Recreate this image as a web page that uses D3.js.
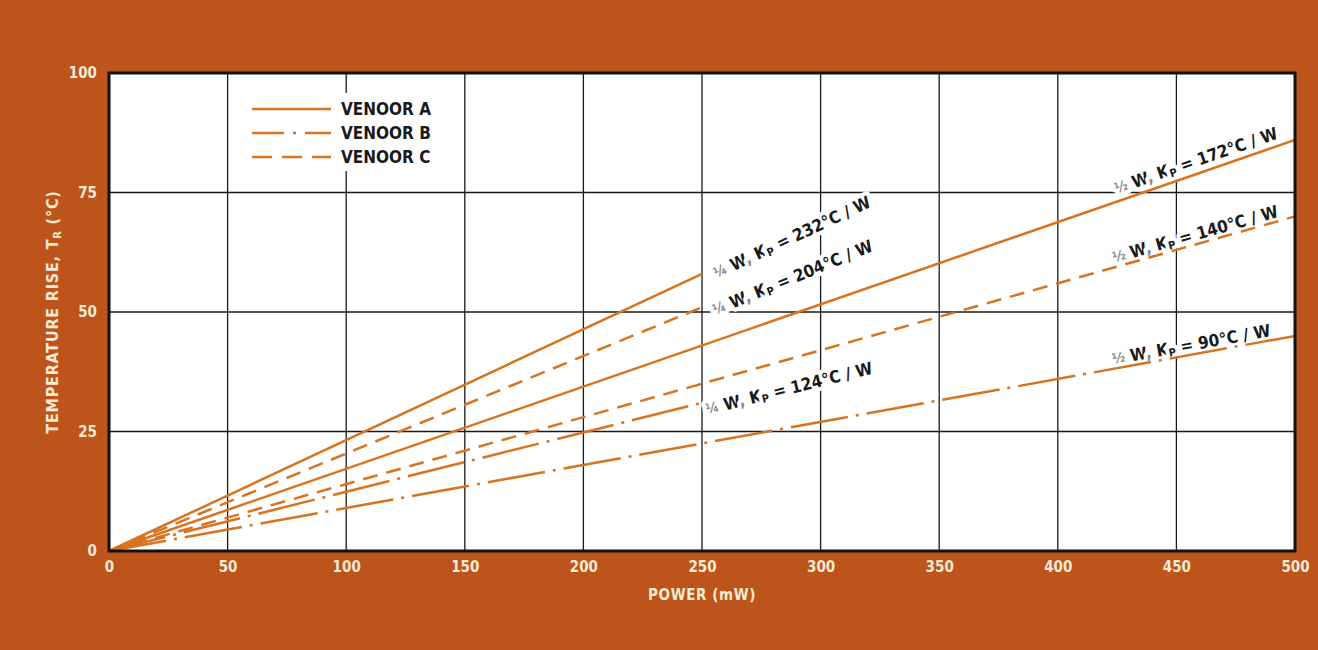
<!DOCTYPE html>
<html><head><meta charset="utf-8">
<script src="https://cdn.jsdelivr.net/npm/d3@7"></script>
<style>
html,body{margin:0;padding:0;background:#bd541c;}
svg{display:block;}
</style></head>
<body>
<svg id="chart" width="1318" height="650"></svg>
<script>
// ---- data ----
const xTicks = [0, 50, 100, 150, 200, 250, 300, 350, 400, 450, 500];
const yTicks = [0, 25, 50, 75, 100];
const vendors = ["VENOOR A", "VENOOR B", "VENOOR C"];
// each line: vendor, rating, Kp (°C/W), end power (mW), end temperature rise (°C)
const lineVendor = ["A", "C", "B", "A", "C", "B"];
const lineRating = ["¼", "¼", "¼", "½", "½", "½"];
const lineKp     = [232, 204, 124, 172, 140, 90];
const lineEndP   = [250, 250, 250, 500, 500, 500];
const lineEndT   = [58, 51, 31, 86, 70, 45];
// label placement (power at label centre, perpendicular offset in px)
const labelP   = [287, 287, 286, 460, 459, 457];
const labelOff = [6, 8, 8, -12, -9, -9];

// ---- layout ----
const W = 1318, H = 650;
const mLeft = 109, mRight = 1295, mTop = 73, mBottom = 551;
const bg = "#bd541c", lineCol = "#d8731f", cream = "#f7ead4";
const font = "'Liberation Sans Narrow','DejaVu Sans Condensed','Roboto Condensed',Arial,sans-serif";

const svg = d3.select("#chart");
svg.append("rect").attr("width", W).attr("height", H).attr("fill", bg);

const x = d3.scaleLinear().domain([0, 500]).range([mLeft, mRight]);
const y = d3.scaleLinear().domain([0, 100]).range([mBottom, mTop]);

// plot background
svg.append("rect").attr("x", mLeft).attr("y", mTop).attr("width", mRight - mLeft).attr("height", mBottom - mTop).attr("fill", "#fff");

// grid
const grid = svg.append("g");
grid.selectAll(".vg").data(xTicks.slice(1, -1)).join("line")
  .attr("x1", d => x(d)).attr("x2", d => x(d)).attr("y1", mTop).attr("y2", mBottom)
  .attr("stroke", "#1a1a1a").attr("stroke-width", 1.3);
grid.selectAll(".hg").data(yTicks.slice(1, -1)).join("line")
  .attr("y1", d => y(d)).attr("y2", d => y(d)).attr("x1", mLeft).attr("x2", mRight)
  .attr("stroke", "#1a1a1a").attr("stroke-width", 1.3);

// axes (labels only)
const xAxis = d3.axisBottom(x).tickValues(xTicks).tickSize(0).tickPadding(10);
const gx = svg.append("g").attr("transform", `translate(0,${mBottom})`).call(xAxis);
const yAxis = d3.axisLeft(y).tickValues(yTicks).tickSize(0).tickPadding(12);
const gy = svg.append("g").attr("transform", `translate(${mLeft},0)`).call(yAxis);
[gx, gy].forEach(g => {
  g.select(".domain").remove();
  g.selectAll("text").attr("fill", cream).attr("font-family", font)
    .attr("font-weight", "bold").attr("font-size", 15).style("font-stretch", "condensed");
});

// axis titles
svg.append("text").attr("x", (mLeft + mRight) / 2).attr("y", 600).attr("text-anchor", "middle")
  .attr("fill", cream).attr("font-family", font).attr("font-weight", "bold").attr("font-size", 15)
  .attr("letter-spacing", 0.6).style("font-stretch", "condensed").text("POWER (mW)");
const yt = svg.append("text").attr("transform", `translate(58,${(mTop + mBottom) / 2}) rotate(-90)`)
  .attr("text-anchor", "middle").attr("fill", cream).attr("font-family", font)
  .attr("font-weight", "bold").attr("font-size", 16).attr("letter-spacing", 0.8)
  .style("font-stretch", "condensed");
yt.append("tspan").text("TEMPERATURE RISE, T");
yt.append("tspan").attr("font-size", 11).attr("dy", 3).text("R");
yt.append("tspan").attr("dy", -3).text("  (°C)");

// dash patterns
const dashFor = {A: null, B: "58,8,3,8", C: "15,9"};
const legendDash = {A: null, B: "32,9,3,9", C: "20,10"};

// legend
const lg = svg.append("g");
lg.append("rect").attr("x", 240).attr("y", 93).attr("width", 200).attr("height", 78).attr("fill", "#fff");
vendors.forEach((v, i) => {
  const key = v.slice(-1);
  const yy = 109 + i * 24;
  lg.append("line").attr("x1", 252).attr("x2", 331).attr("y1", yy).attr("y2", yy)
    .attr("stroke", lineCol).attr("stroke-width", 2.5).attr("stroke-dasharray", legendDash[key]);
  lg.append("text").attr("x", 341).attr("y", yy + 6).attr("font-family", font).attr("font-weight", "bold")
    .attr("font-size", 17).style("font-stretch", "condensed").attr("fill", "#1a1a1a").text(v);
});

// annotations
const ann = svg.append("g");
lineKp.forEach((kp, i) => {
  const x0 = x(0), y0 = y(0), x1 = x(lineEndP[i]), y1 = y(lineEndT[i]);
  const ang = Math.atan2(y1 - y0, x1 - x0);
  const t = labelP[i] / lineEndP[i];
  const cx = x0 + (x1 - x0) * t, cy = y0 + (y1 - y0) * t;
  const off = labelOff[i];
  const px = cx - Math.sin(ang) * off, py = cy + Math.cos(ang) * off;
  const txt = ann.append("text")
    .attr("transform", `translate(${px},${py}) rotate(${ang * 180 / Math.PI})`)
    .attr("text-anchor", "middle").attr("dominant-baseline", "middle")
    .attr("font-family", font).attr("font-weight", "bold").attr("font-size", 17)
    .style("font-stretch", "condensed").attr("fill", "#1a1a1a")
    .attr("stroke", "#fff").attr("stroke-width", 8).attr("stroke-linejoin", "round")
    .style("paint-order", "stroke");
  txt.append("tspan").attr("fill", "#8a8a8a").attr("font-size", 14).text(lineRating[i]);
  txt.append("tspan").text(" W");
  txt.append("tspan").attr("fill", "#8a8a8a").text(", ");
  txt.append("tspan").text("K");
  txt.append("tspan").attr("font-size", 11).attr("dy", 4).text("P");
  txt.append("tspan").attr("dy", -4).text(" = " + kp + "°C / W");
});

// series lines
const line = d3.line().x(d => x(d[0])).y(d => y(d[1]));
const series = lineKp.map((kp, i) => ({vendor: lineVendor[i], pts: [[0, 0], [lineEndP[i], lineEndT[i]]]}));
svg.append("g").selectAll("path").data(series).join("path")
  .attr("d", d => line(d.pts)).attr("fill", "none").attr("stroke", lineCol)
  .attr("stroke-width", 2.5).attr("stroke-dasharray", d => dashFor[d.vendor]);

// frame
svg.append("rect").attr("x", mLeft).attr("y", mTop).attr("width", mRight - mLeft).attr("height", mBottom - mTop)
  .attr("fill", "none").attr("stroke", "#111").attr("stroke-width", 3);
</script>
</body></html>
